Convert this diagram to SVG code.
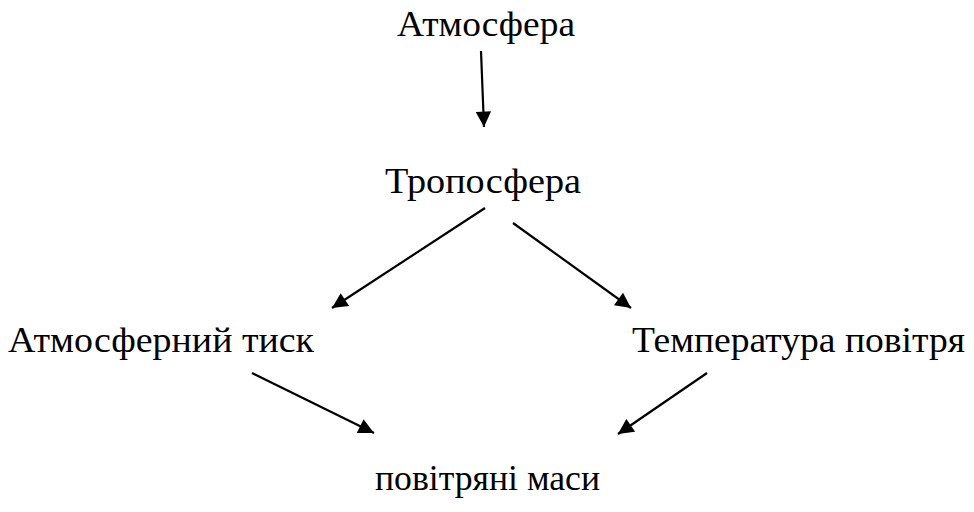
<svg xmlns="http://www.w3.org/2000/svg" width="974" height="512" viewBox="0 0 974 512">
<defs>
<marker id="arrowhead" viewBox="0 0 10 10" refX="10" refY="5" markerWidth="7.5" markerHeight="7" markerUnits="strokeWidth" orient="auto">
<path d="M0,0 L10,5 L0,10 z" fill="#000"/>
</marker>
</defs>
<rect width="974" height="512" fill="#fff"/>
<g id="atmosfera"><text x="397" y="36" style="font-family:'Liberation Serif','Times New Roman',serif;font-size:36px" textLength="178" lengthAdjust="spacingAndGlyphs">Атмосфера</text></g>
<g id="troposfera"><text x="385" y="193" style="font-family:'Liberation Serif','Times New Roman',serif;font-size:36px" textLength="196" lengthAdjust="spacingAndGlyphs">Тропосфера</text></g>
<g id="tysk"><text x="8" y="352" style="font-family:'Liberation Serif','Times New Roman',serif;font-size:36px" textLength="306" lengthAdjust="spacingAndGlyphs">Атмосферний тиск</text></g>
<g id="temperatura"><text x="632" y="352" style="font-family:'Liberation Serif','Times New Roman',serif;font-size:36px" textLength="333" lengthAdjust="spacingAndGlyphs">Температура повітря</text></g>
<g id="masy"><text x="375" y="490" style="font-family:'Liberation Serif','Times New Roman',serif;font-size:36px" textLength="225" lengthAdjust="spacingAndGlyphs">повітряні маси</text></g>
<g id="connectors" stroke="#000" stroke-width="2.2" fill="none">
<line x1="481" y1="51" x2="484" y2="127" marker-end="url(#arrowhead)"/>
<line x1="485" y1="208" x2="332" y2="308" marker-end="url(#arrowhead)"/>
<line x1="513" y1="223" x2="631" y2="308" marker-end="url(#arrowhead)"/>
<line x1="252" y1="373" x2="374" y2="433" marker-end="url(#arrowhead)"/>
<line x1="707" y1="373" x2="618" y2="434" marker-end="url(#arrowhead)"/>
</g>
</svg>
